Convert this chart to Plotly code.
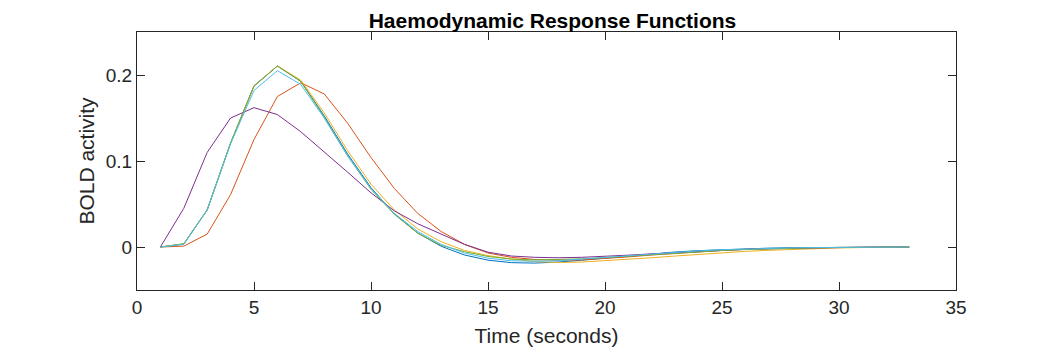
import plotly.graph_objects as go

# time in seconds (sample index)
time_s = list(range(1, 34))

# HRF variants
hrf_blue = [0, 0.0037, 0.0433, 0.121, 0.1875, 0.2105, 0.1926, 0.1526, 0.1081, 0.069,
            0.0385, 0.0162, 0.0008, -0.0093, -0.0153, -0.0182, -0.0187, -0.0175, -0.0154,
            -0.0129, -0.0103, -0.0079, -0.0058, -0.0042, -0.003, -0.002, -0.0013,
            -0.00085, -0.00054, -0.00034, -0.00021, -0.00012, -0.00007]
hrf_orange = [0, 0.001, 0.015, 0.061, 0.125, 0.175, 0.191, 0.178, 0.144, 0.104,
              0.068, 0.039, 0.018, 0.003, -0.007, -0.012, -0.0145, -0.0155, -0.015,
              -0.0135, -0.0115, -0.0093, -0.0073, -0.0055, -0.004, -0.0028, -0.0019,
              -0.0012, -0.0008, -0.0005, -0.0003, -0.0001, 0]
hrf_yellow = [0, 0.0035, 0.043, 0.121, 0.187, 0.2105, 0.194, 0.156, 0.112, 0.073,
              0.043, 0.021, 0.006, -0.004, -0.010, -0.014, -0.017, -0.018, -0.0175,
              -0.016, -0.0143, -0.0125, -0.0105, -0.0085, -0.0067, -0.0051, -0.0038,
              -0.0027, -0.0018, -0.0011, -0.0006, -0.0003, 0]
hrf_purple = [0, 0.045, 0.110, 0.150, 0.162, 0.154, 0.134, 0.111, 0.087, 0.063,
              0.042, 0.027, 0.015, 0.003, -0.006, -0.0105, -0.012, -0.0125, -0.012,
              -0.011, -0.0095, -0.008, -0.0065, -0.005, -0.0037, -0.0027, -0.0019,
              -0.0013, -0.0008, -0.0005, -0.0003, -0.0001, 0]
hrf_green = [0, 0.0035, 0.043, 0.121, 0.187, 0.2105, 0.1925, 0.151, 0.106, 0.067,
             0.038, 0.016, 0.002, -0.0055, -0.011, -0.014, -0.015, -0.0148, -0.0138,
             -0.0123, -0.0105, -0.0087, -0.007, -0.0055, -0.0041, -0.003, -0.0021,
             -0.0014, -0.0009, -0.0005, -0.0003, -0.0001, 0]
hrf_cyan = [0, 0.003, 0.043, 0.12, 0.182, 0.205, 0.189, 0.150, 0.106, 0.068,
            0.039, 0.018, 0.003, -0.007, -0.013, -0.016, -0.0165, -0.016, -0.014,
            -0.012, -0.0098, -0.0077, -0.006, -0.0045, -0.0032, -0.0022, -0.0015,
            -0.001, -0.0006, -0.0004, -0.0002, -0.0001, 0]

series = [
    (hrf_blue, "#0072BD"),
    (hrf_orange, "#D95319"),
    (hrf_yellow, "#EDB120"),
    (hrf_purple, "#7E2F8E"),
    (hrf_green, "#77AC30"),
    (hrf_cyan, "#4DBEEE"),
]

fig = go.Figure()
for values, color in series:
    fig.add_trace(go.Scatter(x=time_s, y=values, mode="lines",
                             line=dict(color=color, width=1), showlegend=False))

axis_color = "#262626"
params_axes = dict(
    showline=True,
    linecolor=axis_color,
    linewidth=1,
    mirror="ticks",
    ticks="inside",
    ticklen=8,
    tickcolor=axis_color,
    showgrid=False,
    zeroline=False,
    tickfont=dict(size=19, color=axis_color),
)
fig.update_xaxes(range=[0, 35], tickvals=[0, 5, 10, 15, 20, 25, 30, 35],
                 title=dict(text="Time (seconds)", font=dict(size=21, color=axis_color),
                            standoff=11),
                 **params_axes)
fig.update_yaxes(range=[-0.05, 0.25], tickvals=[0, 0.1, 0.2], ticktext=["0", "0.1", "0.2"],
                 title=dict(text="BOLD activity", font=dict(size=21, color=axis_color),
                            standoff=5),
                 **params_axes)

# the page body adds an 8px offset, so margins are shifted to compensate
fig.update_layout(
    width=1056,
    height=350,
    plot_bgcolor="white",
    paper_bgcolor="white",
    font=dict(family="Liberation Sans, Arial, sans-serif", color=axis_color),
    margin=dict(l=129, r=108, t=24, b=68),
    title=dict(text="<b>Haemodynamic Response Functions</b>", x=0.5 + 6 / 819, xref="paper",
               y=1 - 13 / 350, yref="container", yanchor="middle", xanchor="center",
               font=dict(size=21, color="black")),
)

fig.write_html("out.html")
